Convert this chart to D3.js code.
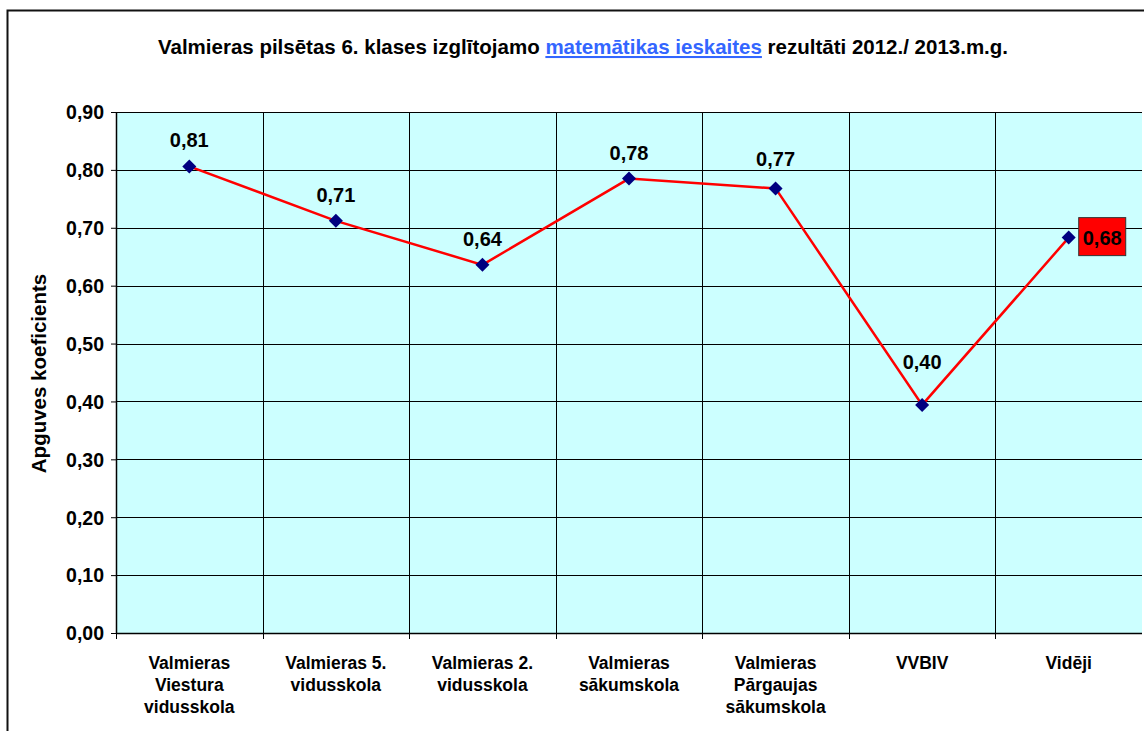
<!DOCTYPE html>
<html>
<head>
<meta charset="utf-8">
<script src="https://cdn.jsdelivr.net/npm/d3@7"></script>
<style>
  body { margin: 0; background: #fff; }
  svg text { font-family: "Liberation Sans", Arial, sans-serif; font-weight: bold; }
</style>
</head>
<body>
<div id="chart"></div>
<script>
// skolas un apguves koeficienti
const categories = [
  ['Valmieras', 'Viestura', 'vidusskola'],
  ['Valmieras 5.', 'vidusskola'],
  ['Valmieras 2.', 'vidusskola'],
  ['Valmieras', 'sākumskola'],
  ['Valmieras', 'Pārgaujas', 'sākumskola'],
  ['VVBIV'],
  ['Vidēji']
]
const values = [0.806, 0.712, 0.636, 0.785, 0.768, 0.394, 0.683]
const valueLabels = ['0,81', '0,71', '0,64', '0,78', '0,77', '0,40', '0,68']
const yTicks = [0, 0.1, 0.2, 0.3, 0.4, 0.5, 0.6, 0.7, 0.8, 0.9]

const svgWidth = 1144, svgHeight = 731
const margin = { top: 112, right: 2, bottom: 98, left: 116 }
const width = svgWidth - margin.left - margin.right
const height = svgHeight - margin.top - margin.bottom

const svg = d3.select('#chart').append('svg')
    .attr('width', svgWidth)
    .attr('height', svgHeight)

// ramis
svg.append('rect')
    .attr('x', 7.5).attr('y', 10.5)
    .attr('width', 1150).attr('height', 740)
    .attr('fill', 'none').attr('stroke', '#111').attr('stroke-width', 2)

// virsraksts
const title = svg.append('text')
    .attr('x', 583).attr('y', 54)
    .attr('text-anchor', 'middle')
    .attr('font-size', 20.5)
title.append('tspan').text('Valmieras pilsētas 6. klases izglītojamo ')
title.append('tspan').text('matemātikas ieskaites')
    .attr('fill', '#3366ff').attr('text-decoration', 'underline')
title.append('tspan').text(' rezultāti 2012./ 2013.m.g.')

const g = svg.append('g')
    .attr('transform', 'translate(' + margin.left + ',' + margin.top + ')')

const x = d3.scaleBand().domain(d3.range(categories.length)).range([0, width])
const y = d3.scaleLinear().domain([0, 0.9]).range([height, 0])

g.append('rect')
    .attr('width', width).attr('height', height)
    .attr('fill', '#ccffff')

// horizontālās līnijas
g.selectAll('.hgrid').data(yTicks).join('line')
    .attr('class', 'hgrid')
    .attr('x1', 0).attr('x2', width)
    .attr('y1', d => Math.round(y(d)) + 0.5).attr('y2', d => Math.round(y(d)) + 0.5)
    .attr('stroke', '#000')

// vertikālās līnijas
g.selectAll('.vgrid').data(d3.range(1, categories.length)).join('line')
    .attr('class', 'vgrid')
    .attr('x1', d => Math.round(x(d)) + 0.5).attr('x2', d => Math.round(x(d)) + 0.5)
    .attr('y1', 0).attr('y2', height + 6)
    .attr('stroke', '#000')

// y ass
const yAxis = g.append('g')
    .call(d3.axisLeft(y).tickValues(yTicks).tickSize(5).tickSizeOuter(0)
        .tickFormat(d => d3.format('.2f')(d).replace('.', ',')))
yAxis.select('.domain').attr('stroke', '#000').attr('stroke-width', 1.5)
yAxis.selectAll('text').attr('font-size', 19.5).attr('fill', '#000').attr('dx', -4).attr('dy', '0.35em')
    .attr('y', 0)

// x ass
g.append('line')
    .attr('x1', 0).attr('x2', width)
    .attr('y1', height + 0.5).attr('y2', height + 0.5)
    .attr('stroke', '#000').attr('stroke-width', 1.5)
g.append('line')
    .attr('x1', 0.5).attr('x2', 0.5)
    .attr('y1', height).attr('y2', height + 6)
    .attr('stroke', '#000')

const catLabels = g.selectAll('.cat').data(categories).join('text')
    .attr('class', 'cat')
    .attr('text-anchor', 'middle')
    .attr('font-size', 17.5)
    .attr('fill', '#000')
catLabels.selectAll('tspan').data((d, i) => d.map(t => ({ t, i }))).join('tspan')
    .attr('x', d => x(d.i) + x.bandwidth() / 2)
    .attr('y', (d, j) => height + 36 + j * 22)
    .text(d => d.t)

// ass nosaukums
svg.append('text')
    .attr('transform', 'translate(46,' + (margin.top + height / 2 + 1) + ') rotate(-90)')
    .attr('text-anchor', 'middle')
    .attr('font-size', 20.5)
    .text('Apguves koeficients')

// līnija
const line = d3.line()
    .x((d, i) => x(i) + x.bandwidth() / 2)
    .y(d => y(d))
g.append('path')
    .datum(values)
    .attr('d', line)
    .attr('fill', 'none')
    .attr('stroke', '#ff0000')
    .attr('stroke-width', 2.5)

g.selectAll('.pt').data(values).join('path')
    .attr('class', 'pt')
    .attr('transform', (d, i) => 'translate(' + (x(i) + x.bandwidth() / 2) + ',' + y(d) + ')')
    .attr('d', 'M0,-7L7,0L0,7L-7,0Z')
    .attr('fill', '#000080')

// vērtību etiķetes (VVBIV etiķete pacelta augstāk, kā oriģinālā)
const labelLift = d => d < 0.5 ? 36 : (d > 0.76 && d < 0.78 ? 22 : 19)
const last = values.length - 1
g.selectAll('.lbl').data(values.slice(0, last)).join('text')
    .attr('class', 'lbl')
    .attr('x', (d, i) => x(i) + x.bandwidth() / 2)
    .attr('y', d => y(d) - labelLift(d))
    .attr('text-anchor', 'middle')
    .attr('font-size', 20)
    .text((d, i) => valueLabels[i])

const lx = x(last) + x.bandwidth() / 2 + 10
const ly = y(values[last])
g.append('rect')
    .attr('x', lx).attr('y', ly - 20)
    .attr('width', 47).attr('height', 38)
    .attr('fill', '#ff0000').attr('stroke', '#333').attr('stroke-width', 1)
g.append('text')
    .attr('x', lx + 23.5).attr('y', ly + 7)
    .attr('text-anchor', 'middle')
    .attr('font-size', 20)
    .text(valueLabels[last])
</script>
</body>
</html>
